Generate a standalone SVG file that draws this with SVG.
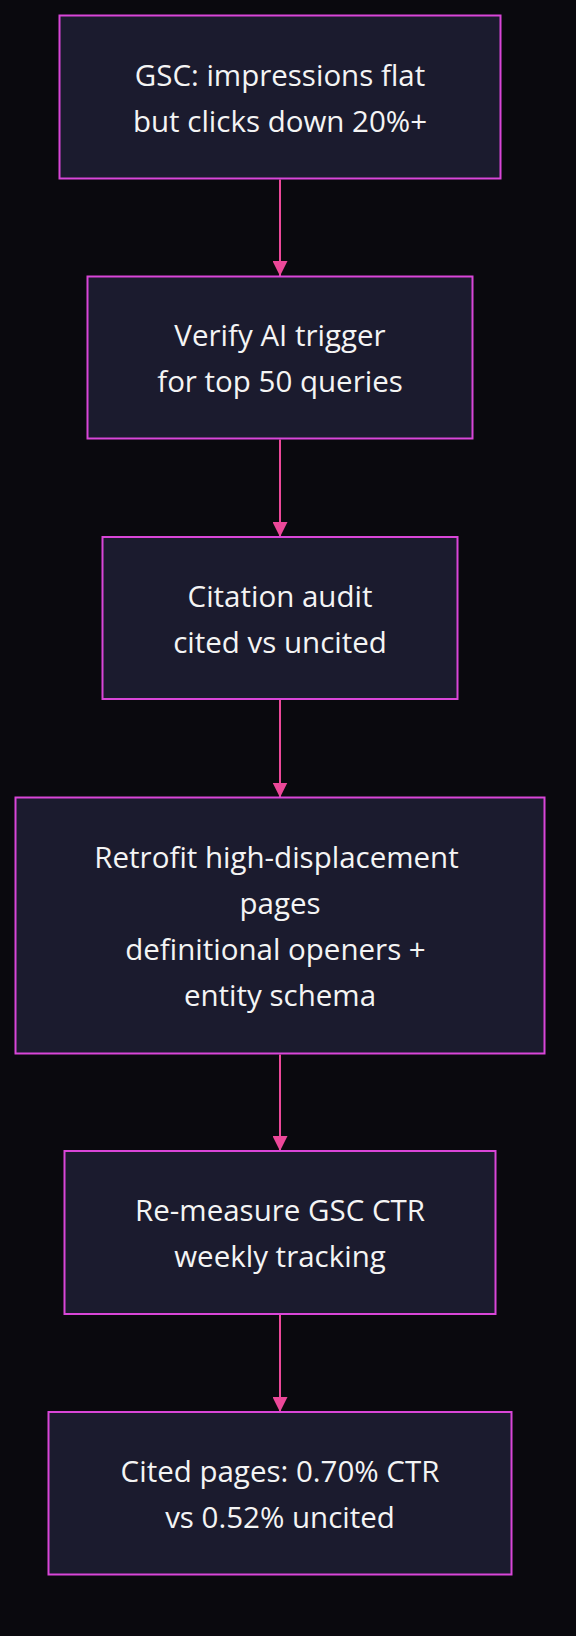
<svg xmlns="http://www.w3.org/2000/svg" width="576" height="1636" viewBox="0 0 576 1636">
<style>
.node rect{fill:#1b1b2e;stroke:#d946d8;stroke-width:2}
.node text{fill:#f4f4f4;font-family:"Open Sans","Noto Sans",sans-serif;font-size:29.5px;text-anchor:middle}
.edge{stroke:#ec4899;stroke-width:2;fill:none}
</style>
<defs>
<marker id="arr" markerWidth="16" markerHeight="15" refX="15" refY="7.5" orient="auto" markerUnits="userSpaceOnUse">
<path d="M0,0 L15,7.5 L0,15 Z" fill="#ec4899"/>
</marker>
</defs>
<rect width="576" height="1636" fill="#0a090e"/>
<g id="edges">
<line class="edge" x1="280" y1="179.5" x2="280" y2="276" marker-end="url(#arr)"/>
<line class="edge" x1="280" y1="439.5" x2="280" y2="537" marker-end="url(#arr)"/>
<line class="edge" x1="280" y1="700" x2="280" y2="797.5" marker-end="url(#arr)"/>
<line class="edge" x1="280" y1="1054.5" x2="280" y2="1151" marker-end="url(#arr)"/>
<line class="edge" x1="280" y1="1315" x2="280" y2="1412" marker-end="url(#arr)"/>
</g>
<g id="n1" class="node"><rect x="59.5" y="15.5" width="441" height="163"/>
<text x="280" y="85.5">GSC: impressions flat</text><text x="280" y="131.5">but clicks down 20%+</text></g>
<g id="n2" class="node"><rect x="87.5" y="276.5" width="385" height="162"/>
<text x="280" y="346">Verify AI trigger</text><text x="280" y="392">for top 50 queries</text></g>
<g id="n3" class="node"><rect x="102.5" y="537" width="355" height="162"/>
<text x="280" y="606.5">Citation audit</text><text x="280" y="652.5">cited vs uncited</text></g>
<g id="n4" class="node"><rect x="15.5" y="797.5" width="529" height="256"/>
<text x="276.5" y="868">Retrofit high-displacement</text><text x="280" y="914">pages</text><text x="275.5" y="960">definitional openers +</text><text x="280" y="1006">entity schema</text></g>
<g id="n5" class="node"><rect x="64.5" y="1151" width="431" height="163"/>
<text x="280" y="1221">Re-measure GSC CTR</text><text x="280" y="1267">weekly tracking</text></g>
<g id="n6" class="node"><rect x="48.5" y="1412" width="463" height="162.5"/>
<text x="280" y="1481.75">Cited pages: 0.70% CTR</text><text x="280" y="1527.75">vs 0.52% uncited</text></g>
</svg>
